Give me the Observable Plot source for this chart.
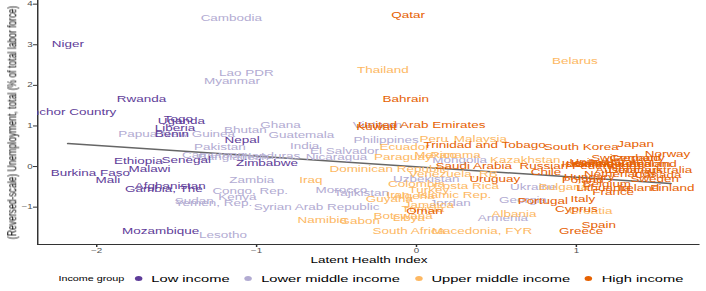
<!DOCTYPE html>
<html><head><meta charset="utf-8">
<script src="https://cdn.jsdelivr.net/npm/d3@7"></script>
<script src="https://cdn.jsdelivr.net/npm/@observablehq/plot@0.6"></script>
<style>
html,body{margin:0;padding:0;background:#fff;overflow:hidden}
#wrap{width:471px;transform:scaleX(1.499);transform-origin:0 0;font-family:"Liberation Sans",Arial,Helvetica,sans-serif;background:#fff}
#legend{height:25px;display:flex;align-items:center;padding-left:39px;color:#000;white-space:nowrap}
#legend .ttl{font-size:7.2px;margin-right:7px}
#legend .item{display:flex;align-items:center;margin-right:10px;font-size:9.8px}
#legend .dot{width:5px;height:5px;border-radius:50%;margin-right:6px}
</style></head><body><div id="wrap"></div>
<script>
const countries = [
 "Niger","Anchor Country","Rwanda","Togo","Uganda","Liberia","Benin","Nepal","Ethiopia","Senegal","Burkina Faso","Malawi","Mali","Afghanistan","Gambia, The","Mozambique","Zimbabwe",
 "Cambodia","Lao PDR","Myanmar","Papua New Guinea","Pakistan","Bhutan","Ghana","Guatemala","Cameroon","Bangladesh","Honduras","Nicaragua","India","El Salvador","Zambia","Congo, Rep.","Kenya","Sudan","Yemen, Rep.","Lesotho","Morocco","Tajikistan","Syrian Arab Republic","Philippines","Vietnam","Uzbekistan","Mongolia","Ukraine","Georgia","Armenia","Jordan",
 "Thailand","Belarus","Iraq","Namibia","Gabon","Botswana","Libya","South Africa","Tunisia","Jamaica","Guyana","Algeria","Iran, Islamic Rep.","Turkey","Costa Rica","Colombia","Venezuela, RB","Dominican Republic","Paraguay","Mexico","Panama","Ecuador","Peru","Malaysia","Kazakhstan","Bulgaria","Albania","Macedonia, FYR","Croatia",
 "Qatar","Bahrain","United Arab Emirates","Kuwait","Trinidad and Tobago","Saudi Arabia","Russian Federation","Uruguay","Chile","Oman","Portugal","Italy","Cyprus","Greece","Spain","South Korea","Japan","Norway","Switzerland","Germany","Israel","Iceland","Luxembourg","United States","United Kingdom","New Zealand","Denmark","Australia","Austria","Netherlands","Canada","Hungary","Poland","Sweden","Belgium","Lithuania","Ireland","Finland","France"
];
const healthIndex = [
 -2.18,-2.17,-1.72,-1.49,-1.47,-1.51,-1.53,-1.09,-1.74,-1.44,-2.04,-1.67,-1.93,-1.54,-1.58,-1.60,-0.935,
 -1.158,-1.064,-1.154,-1.50,-1.23,-1.07,-0.85,-0.72,-1.27,-1.146,-0.91,-0.50,-0.70,-0.45,-1.03,-1.04,-1.12,-1.39,-1.27,-1.21,-0.47,-0.345,-0.625,-0.19,-0.245,0.061,0.27,0.73,0.666,0.54,0.21,
 -0.21,0.99,-0.66,-0.59,-0.355,-0.084,-0.048,-0.048,0.04,0.077,-0.17,-0.017,0.14,0.077,0.31,0.0,0.23,-0.17,-0.085,0.12,0.245,-0.074,0.108,0.40,0.68,0.92,0.61,0.41,1.09,
 -0.052,-0.067,0.033,-0.25,0.426,0.358,1.01,0.49,0.81,0.05,0.79,1.04,1.0,1.03,1.14,1.03,1.37,1.57,1.31,1.38,1.01,1.10,1.17,1.21,1.29,1.38,1.37,1.56,1.25,1.275,1.51,1.08,1.04,1.49,1.19,1.17,1.39,1.60,1.23
];
const unemployment = [
 3.02,1.35,1.67,1.16,1.13,0.95,0.80,0.64,0.13,0.15,-0.16,-0.06,-0.34,-0.49,-0.56,-1.59,0.08,
 3.66,2.29,2.10,0.80,0.475,0.89,1.03,0.78,0.29,0.23,0.25,0.24,0.50,0.37,-0.34,-0.61,-0.76,-0.84,-0.89,-1.68,-0.57,-0.65,-1.0,0.66,1.03,-0.32,0.17,-0.51,-0.82,-1.26,-0.90,
 2.38,2.59,-0.34,-1.33,-1.35,-1.21,-1.26,-1.58,-1.06,-0.94,-0.81,-0.74,-0.71,-0.59,-0.49,-0.43,-0.18,-0.06,0.23,0.29,0.27,0.475,0.665,0.665,0.17,-0.51,-1.18,-1.60,-1.10,
 3.74,1.65,1.03,0.97,0.52,0.0,0.01,-0.30,-0.14,-1.10,-0.85,-0.80,-1.04,-1.58,-1.45,0.475,0.56,0.30,0.21,0.21,0.07,0.08,0.07,0.10,0.05,0.07,-0.10,-0.08,-0.10,-0.19,-0.22,-0.26,-0.33,-0.32,-0.43,-0.52,-0.52,-0.53,-0.63
];
const incomeGroup = [
 ...Array(17).fill("Low income"),
 ...Array(31).fill("Lower middle income"),
 ...Array(29).fill("Upper middle income"),
 ...Array(42).fill("High income")
];
const groups = ["Low income","Lower middle income","Upper middle income","High income"];
const groupColors = ["#5e3c99","#b2abd2","#fdb863","#e66101"];
const drawOrder = ["Lower middle income","Upper middle income","Low income","High income"];
const xTicks = [-2,-1,0,1];
const yTicks = [-1,0,1,2,3,4];
const trendX = [-2.18,1.59];
const trendY = [0.565,-0.42];
const xDomain = [-2.369,1.775];
const yDomain = [-1.92,4.09];
const xLabel = "Latent Health Index";
const yLabel = "(Reversed-scale) Unemployment, total (% of total labor force)";
const legendTitle = "Income group";

const table = countries.map((c,i)=>({country:c, x:healthIndex[i], y:unemployment[i], group:incomeGroup[i]}))
  .sort((a,b)=>drawOrder.indexOf(a.group)-drawOrder.indexOf(b.group));
const trend = trendX.map((x,i)=>({x, y:trendY[i]}));
const fmt = d => d < 0 ? "\u2212" + (-d) : String(d);

const font = '"Liberation Sans",Arial,Helvetica,sans-serif';
const chart = Plot.plot({
  width: 471, height: 266,
  marginLeft: 24.67, marginRight: 4.33, marginTop: 0, marginBottom: 22,
  style: {fontFamily: font, background: "#fff", overflow: "visible"},
  x: {domain: xDomain},
  y: {domain: yDomain},
  color: {domain: groups, range: groupColors},
  marks: [
    Plot.axisX({ticks: xTicks, tickFormat: fmt, tickSize: 3, tickPadding: 0.5, fontSize: 6.5, stroke: "#333", fill: "#4d4d4d", label: null}),
    Plot.axisY({ticks: yTicks, tickFormat: fmt, tickSize: 2.7, tickPadding: 0.6, fontSize: 6.5, stroke: "#333", fill: "#4d4d4d", label: null}),
    Plot.ruleX([xDomain[0]], {stroke: "#333", strokeWidth: 1}),
    Plot.ruleY([yDomain[0]], {stroke: "#333", strokeWidth: 1.2}),
    Plot.line(trend, {x: "x", y: "y", stroke: "#666", strokeWidth: 1.5}),
    Plot.text(table, {x: "x", y: "y", text: "country", fill: "group", fontSize: 9, clip: true}),
    Plot.text([xLabel], {frameAnchor: "bottom", textAnchor: "middle", lineAnchor: "middle", dy: 15.5, fontSize: 9, fill: "#000"}),
    Plot.text([yLabel], {frameAnchor: "left", textAnchor: "middle", lineAnchor: "middle", rotate: -90, dx: -17, fontSize: 8.6, fill: "#000"})
  ]
});

const wrap = document.getElementById("wrap");
wrap.appendChild(chart);
const legend = d3.select(wrap).append("div").attr("id","legend");
legend.append("span").attr("class","ttl").text(legendTitle);
groups.forEach((g,i)=>{
  const it = legend.append("span").attr("class","item");
  it.append("span").attr("class","dot").style("background", groupColors[i]);
  it.append("span").text(g);
});
</script></body></html>
